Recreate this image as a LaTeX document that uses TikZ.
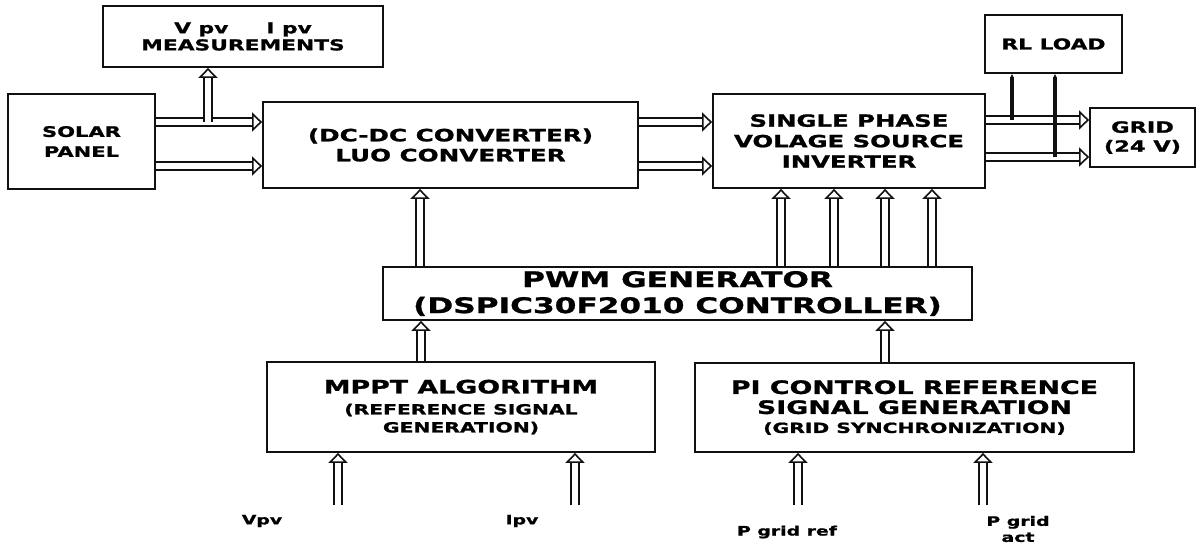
\documentclass[tikz,border=0pt]{standalone}
\usepackage{fontspec}
\setmainfont{DejaVu Sans}[FakeStretch=1.45,BoldFeatures={FakeBold=1.2}]
\usetikzlibrary{arrows.meta}
\definecolor{inkblack}{HTML}{111111}
\newcommand{\szbig}{\fontsize{18.5}{22}\selectfont}
\newcommand{\szsmall}{\fontsize{14}{18}\selectfont}

\begin{document}
\begin{tikzpicture}[
      x=1pt,y=-1pt,
      box/.style={draw=inkblack,line width=1.8pt,inner sep=0pt,align=center,font=\bfseries\fontsize{15}{18}\selectfont},
      dbl/.style={draw=inkblack,line width=1.6pt,double=white,double distance=6pt,-{Triangle[open,length=10pt,width=19pt,line width=1.6pt]}},
      feed/.style={draw=inkblack,line width=3.8pt,-{Latex[length=3pt,width=3pt]}},
      lbl/.style={font=\bfseries\fontsize{13}{16}\selectfont,align=center,inner sep=0pt}
    ]
    \useasboundingbox (0,0) rectangle (1196,544);
    \node[box,minimum width=280pt,minimum height=61pt,font=\bfseries\fontsize{15}{17}\selectfont] (meas) at (243,36.5) {V pv\hspace{38pt}I pv\\MEASUREMENTS};
    \node[box,minimum width=147pt,minimum height=95pt,font=\bfseries\fontsize{14.5}{20}\selectfont] (solar) at (81.5,141.5) {SOLAR\\PANEL};
    \node[box,minimum width=375pt,minimum height=86pt,font=\bfseries\fontsize{17}{20}\selectfont] (luo) at (450.5,145) {(DC-DC CONVERTER)\\LUO CONVERTER};
    \node[box,minimum width=272pt,minimum height=94pt,font=\bfseries\fontsize{16.8}{20.5}\selectfont] (inv) at (849,141) {SINGLE PHASE\\VOLAGE SOURCE\\INVERTER};
    \node[box,minimum width=137pt,minimum height=58pt] (rl) at (1053.5,44) {RL LOAD};
    \node[box,minimum width=105pt,minimum height=59pt,font=\bfseries\fontsize{15.5}{19}\selectfont] (grid) at (1142.5,137.5) {GRID\\(24 V)};
    \node[box,minimum width=589pt,minimum height=53pt,font=\bfseries\fontsize{21.5}{26}\selectfont] (pwm) at (677.5,293.5) {PWM GENERATOR\\(DSPIC30F2010 CONTROLLER)};
    \node[box,minimum width=388pt,minimum height=90pt] (mppt) at (461,407) {{\szbig MPPT ALGORITHM}\\[3pt]{\szsmall (REFERENCE SIGNAL}\\{\szsmall GENERATION)}};
    \node[box,minimum width=439pt,minimum height=89pt] (pi) at (914.5,407.5) {{\szbig PI CONTROL REFERENCE}\\[2pt]{\szbig SIGNAL GENERATION}\\[1pt]{\szsmall (GRID SYNCHRONIZATION)}};
    \coordinate (rowA) at (0,122);
    \coordinate (rowB) at (0,166);
    \coordinate (outA) at (0,120);
    \coordinate (outB) at (0,157);
    \coordinate (tapM) at (208,122);
    \coordinate (tapA) at (1012,120);
    \coordinate (tapB) at (1055,157);
    \coordinate (vin) at (338,505);
    \coordinate (iin) at (575,505);
    \coordinate (pref) at (798,505);
    \coordinate (pact) at (983,505);
    \draw[dbl] (solar.east |- rowA) -- (luo.west |- rowA);
    \draw[dbl] (solar.east |- rowB) -- (luo.west |- rowB);
    \draw[dbl] (tapM) -- (tapM |- meas.south);
    \draw[dbl] (luo.east |- rowA) -- (inv.west |- rowA);
    \draw[dbl] (luo.east |- rowB) -- (inv.west |- rowB);
    \draw[dbl] (inv.east |- outA) -- (grid.west |- outA);
    \draw[dbl] (inv.east |- outB) -- (grid.west |- outB);
    \draw[feed] (tapA) -- (tapA |- rl.south);
    \draw[feed] (tapB) -- (tapB |- rl.south);
    \draw[dbl] (pwm.north -| 420,0) -- (luo.south -| 420,0);
    \foreach \gx in {781,834,885,932}
      \draw[dbl] (pwm.north -| \gx,0) -- (inv.south -| \gx,0);
    \draw[dbl] (mppt.north -| 421,0) -- (pwm.south -| 421,0);
    \draw[dbl] (pi.north -| 885,0) -- (pwm.south -| 885,0);
    \draw[dbl] (vin) -- (vin |- mppt.south);
    \draw[dbl] (iin) -- (iin |- mppt.south);
    \draw[dbl] (pref) -- (pref |- pi.south);
    \draw[dbl] (pact) -- (pact |- pi.south);
    \node[lbl] (vpv) at (262,521) {Vpv};
    \node[lbl] (ipv) at (522,521) {Ipv};
    \node[lbl] (pgr) at (787,532) {P grid ref};
    \node[lbl] (pga) at (1018,529) {P grid\\act};
  \end{tikzpicture}
\end{document}
